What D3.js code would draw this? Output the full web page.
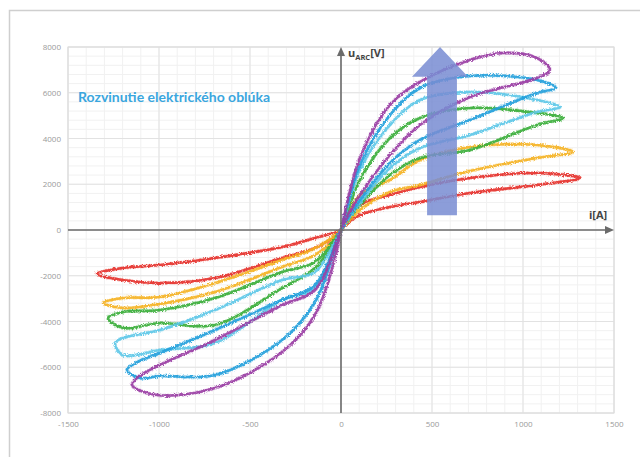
<!DOCTYPE html>
<html><head><meta charset="utf-8">
<script src="https://cdn.jsdelivr.net/npm/d3@7/dist/d3.min.js"></script>
<style>
html,body{margin:0;padding:0;background:#fff;}
svg{display:block;}
</style></head>
<body>
<svg id="chart" width="640" height="457"></svg>
<script>
// ---- data (current i [A], voltage u [V]) ----
const xTicks = [-1500, -1000, -500, 0, 500, 1000, 1500];
const yTicks = [8000, 6000, 4000, 2000, 0, -2000, -4000, -6000, -8000];
const seriesNames = ["red", "orange", "green", "cyan", "blue", "purple"];
const seriesColors = ["#e6322b", "#f5b324", "#3aae3a", "#5ec8e8", "#22a0dc", "#9a3ea4"];

const redLoop = [[0,0],[104,1093],[269,1530],[434,1880],[709,2273],[1077,2492],[1313,2273],
  [1077,1967],[709,1618],[434,1224],[269,1006],[104,656],[20,200],
  [0,0],[-143,-350],[-324,-743],[-692,-1224],[-995,-1530],[-1198,-1661],[-1341,-1924],
  [-1198,-2186],[-995,-2317],[-692,-2100],[-324,-1224],[-143,-787],[-20,-200]];
const orangeLoop = [[0,0],[104,1530],[269,2186],[434,3060],[709,3629],[1077,3716],[1275,3410],
  [1077,3148],[709,2580],[434,1967],[269,1661],[104,874],[20,200],
  [0,0],[-143,-800],[-324,-1312],[-692,-2317],[-995,-2929],[-1198,-2973],[-1308,-3192],
  [-1198,-3410],[-995,-3235],[-692,-2711],[-324,-1618],[-143,-1093],[-20,-250]];
const greenLoop = [[0,0],[104,2186],[269,4022],[434,4897],[709,5334],[1077,5115],[1220,4897],
  [1077,4591],[709,3498],[434,3148],[269,2405],[104,1093],[20,250],
  [0,0],[-143,-1399],[-324,-1836],[-692,-2973],[-995,-3498],[-1198,-3585],[-1280,-3847],
  [-1198,-4285],[-995,-4066],[-692,-4153],[-324,-2536],[-143,-1661],[-20,-300]];
const cyanLoop = [[0,0],[104,2623],[269,4591],[434,5684],[709,6033],[1077,5684],[1203,5378],
  [1077,5159],[709,4153],[434,3585],[269,2711],[104,1180],[20,250],
  [0,0],[-143,-1836],[-324,-2186],[-692,-3498],[-995,-4372],[-1198,-4722],[-1242,-4940],
  [-1198,-5465],[-995,-5246],[-692,-4940],[-324,-3060],[-143,-2536],[-20,-400]];
const blueLoop = [[0,0],[104,2842],[269,5028],[434,6208],[709,6733],[1077,6558],[1181,6208],
  [1077,5990],[709,4809],[434,3935],[269,2929],[104,1312],[20,300],
  [0,0],[-143,-2405],[-324,-3060],[-692,-4372],[-995,-5377],[-1120,-5771],[-1176,-6121],
  [-1104,-6471],[-995,-6383],[-692,-6339],[-324,-4809],[-143,-3148],[-20,-500]];
const purpleLoop = [[0,0],[104,3148],[269,5465],[434,6471],[709,7432],[890,7738],[1077,7520],[1148,6995],
  [1077,6645],[709,5815],[434,4591],[269,3279],[104,1530],[20,350],
  [0,0],[-143,-2623],[-324,-3279],[-692,-4809],[-995,-5902],[-1110,-6400],[-1148,-6776],
  [-1011,-7214],[-692,-6908],[-324,-5334],[-143,-3716],[-33,-1224]];
const loops = [redLoop, orangeLoop, greenLoop, cyanLoop, blueLoop, purpleLoop];

const titleText = "Rozvinutie elektrického oblúka";

// ---- layout ----
const svg = d3.select("#chart");
const x = d3.scaleLinear().domain([-1500, 1500]).range([68, 614]);
const y = d3.scaleLinear().domain([-8000, 8000]).range([413, 47]);

// noise filter to mimic scattered measurement dots
const defs = svg.append("defs");
const f = defs.append("filter").attr("id", "fuzz").attr("x", "-5%").attr("y", "-5%").attr("width", "110%").attr("height", "110%");
f.append("feTurbulence").attr("type", "fractalNoise").attr("baseFrequency", "0.9").attr("numOctaves", 2).attr("seed", 3).attr("result", "n");
f.append("feDisplacementMap").attr("in", "SourceGraphic").attr("in2", "n").attr("scale", 3.4)
  .attr("xChannelSelector", "R").attr("yChannelSelector", "G");

// outer frame
svg.append("path").attr("d", "M9.5,457 V10.5 H640").attr("fill", "none").attr("stroke", "#cfcfcf").attr("stroke-width", 1.5);

// minor grid
const g = svg.append("g");
g.selectAll(".mx").data(d3.range(-1500, 1501, 100)).join("line")
  .attr("x1", d => x(d)).attr("x2", d => x(d)).attr("y1", y(8000)).attr("y2", y(-8000))
  .attr("stroke", "#f1f1f1").attr("stroke-width", 1);
g.selectAll(".my").data(d3.range(-8000, 8001, 400)).join("line")
  .attr("y1", d => y(d)).attr("y2", d => y(d)).attr("x1", x(-1500)).attr("x2", x(1500))
  .attr("stroke", "#f1f1f1").attr("stroke-width", 1);
// major grid
g.selectAll(".Mx").data(xTicks).join("line")
  .attr("x1", d => x(d)).attr("x2", d => x(d)).attr("y1", y(8000)).attr("y2", y(-8000))
  .attr("stroke", "#e2e2e2").attr("stroke-width", 1);
g.selectAll(".My").data(yTicks).join("line")
  .attr("y1", d => y(d)).attr("y2", d => y(d)).attr("x1", x(-1500)).attr("x2", x(1500))
  .attr("stroke", "#e2e2e2").attr("stroke-width", 1);
svg.append("rect").attr("x", x(-1500)).attr("y", y(8000)).attr("width", x(1500) - x(-1500)).attr("height", y(-8000) - y(8000))
  .attr("fill", "none").attr("stroke", "#dcdcdc");

// tick labels (plain hyphen minus as in the original)
const fmt = d => String(d);
const yAxis = d3.axisLeft(y).tickValues(yTicks).tickSize(0).tickPadding(7).tickFormat(fmt);
svg.append("g").attr("transform", `translate(${x(-1500)},0)`).call(yAxis)
  .call(s => s.select(".domain").remove())
  .selectAll("text").attr("fill", "#9a9a9a").style("font", "8px 'Open Sans', sans-serif");
const xAxis = d3.axisBottom(x).tickValues(xTicks).tickSize(0).tickPadding(8).tickFormat(fmt);
svg.append("g").attr("transform", `translate(0,${y(-8000)})`).call(xAxis)
  .call(s => s.select(".domain").remove())
  .selectAll("text").attr("fill", "#9a9a9a").style("font", "8px 'Open Sans', sans-serif");

// loops
const line = d3.line().x(d => x(d[0])).y(d => y(d[1])).curve(d3.curveCatmullRomClosed.alpha(0.5));
const lg = svg.append("g").attr("filter", "url(#fuzz)");
loops.forEach((pts, k) => {
  lg.append("path").attr("d", line(pts)).attr("fill", "none")
    .attr("stroke", seriesColors[k]).attr("stroke-width", 4).attr("stroke-opacity", 0.4)
    .attr("stroke-dasharray", "1 1.3 2 0.8 0.6 1.6");
  lg.append("path").attr("d", line(pts)).attr("fill", "none")
    .attr("stroke", seriesColors[k]).attr("stroke-width", 2.6).attr("stroke-opacity", 0.9)
    .attr("stroke-linejoin", "round");
});

// axes through origin
const axCol = "#6b6b6b";
svg.append("line").attr("x1", x(-1500)).attr("x2", x(1500) - 4).attr("y1", y(0)).attr("y2", y(0))
  .attr("stroke", axCol).attr("stroke-width", 1.6);
svg.append("path").attr("d", `M${x(1500)},${y(0)} l-9,-4 v8 z`).attr("fill", axCol);
svg.append("line").attr("x1", x(0)).attr("x2", x(0)).attr("y1", y(-8000)).attr("y2", y(8000) + 4)
  .attr("stroke", axCol).attr("stroke-width", 1.6);
svg.append("path").attr("d", `M${x(0)},${y(8000)} l-4,9 h8 z`).attr("fill", axCol);

// big arrow
const ar = {x0: 473, x1: 637, hx0: 390, hx1: 698, tipX: 544, yBase: 650, yHead: 6700, yTip: 8000};
svg.append("path")
  .attr("d", `M${x(ar.x0)},${y(ar.yBase)} V${y(ar.yHead)} H${x(ar.hx0)} L${x(ar.tipX)},${y(ar.yTip)} L${x(ar.hx1)},${y(ar.yHead)} H${x(ar.x1)} V${y(ar.yBase)} Z`)
  .attr("fill", "#788cd2").attr("fill-opacity", 0.85);

// axis labels
const ul = svg.append("text").attr("x", x(0) + 7).attr("y", y(8000) + 10)
  .attr("fill", "#444").style("font", "bold 11px 'Open Sans', sans-serif");
ul.append("tspan").text("u");
ul.append("tspan").attr("dy", 3).style("font-size", "7.5px").text("ARC");
ul.append("tspan").attr("dy", -3).text("[V]");
svg.append("text").attr("x", 589).attr("y", 219).attr("fill", "#444")
  .style("font", "bold 11px 'Open Sans', sans-serif").text("i[A]");

// title
svg.append("text").attr("x", 78).attr("y", 102).attr("fill", "#3aa6de")
  .style("font", "bold 14px Lato, 'Open Sans', sans-serif").text(titleText);
</script>
</body></html>
